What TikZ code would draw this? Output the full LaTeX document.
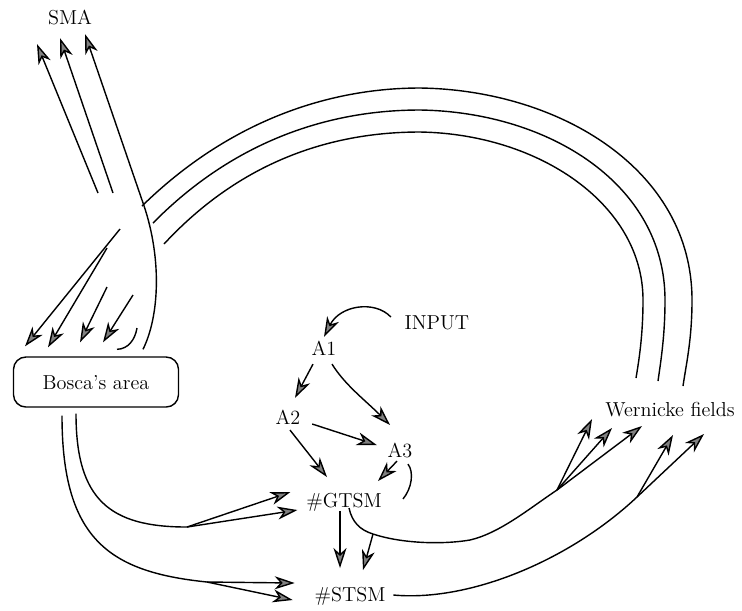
\documentclass[tikz,border=0pt]{standalone}
\usepackage{tikz}
\usetikzlibrary{arrows.meta}

\begin{document}
\begin{tikzpicture}[
  x=0.02cm, y=-0.02cm,
  lbl/.style={font=\fontsize{11.5}{14}\selectfont,inner sep=2pt,text depth=0pt},
  area/.style={lbl,draw,thick,rounded corners=7pt,minimum width=3.3cm,minimum height=1cm},
  fibre/.style={thick},
  arr/.style={thick,-{Stealth[length=4mm,width=2.6mm,inset=1.2mm,fill=gray]}}
]

  \useasboundingbox (0,0) rectangle (742,610);

  %% ===== AREAS =====
  \node[lbl] (sma) at (70,17) {SMA};
  \node[area] (broca) at (96,382) {Bosca's area};
  \node[lbl] (wern) at (670,409) {Wernicke fields};

  %% ===== CENTRAL CHAIN =====
  \node[lbl] (input) at (437,323) {INPUT};
  \node[lbl] (a1) at (324,348) {A1};
  \node[lbl] (a2) at (288,417) {A2};
  \node[lbl] (a3) at (400,450) {A3};
  \node[lbl] (gtsm) at (344,500) {\#GTSM};
  \node[lbl] (stsm) at (350,594) {\#STSM};

  % INPUT feeding A1
  \draw[arr] ([shift={(-10,-6)}]input.west) .. controls (375,300) and (340,305) .. (a1.north);

  % A1 to A2 and A3
  \draw[arr] ([shift={(-11,5)}]a1.south) -- ([shift={(7,-8)}]a2.north);
  \draw[arr] ([shift={(8,5)}]a1.south) .. controls (345,385) and (365,400) .. ([shift={(-10,-14)}]a3.north);

  % A2 to A3 and GTSM
  \draw[arr] ([shift={(8,7)}]a2.east) -- ([shift={(-7,-5)}]a3.west);
  \draw[arr] ([shift={(2,2)}]a2.south) -- ([shift={(-17,-12)}]gtsm.north);

  % A3 to GTSM, with the loop beside it
  \draw[arr] ([shift={(-3,0)}]a3.south) -- ([shift={(34,-8)}]gtsm.north);
  \draw[fibre] ([shift={(8,3)}]a3.south) .. controls (414,472) and (412,488) .. ([shift={(59,-12)}]gtsm.south);

  % GTSM to STSM
  \draw[arr] ([shift={(-4,0)}]gtsm.south) -- ([shift={(-10,-15)}]stsm.north);

  %% ===== OUTPUT TO WERNICKE =====
  \coordinate (gfork) at (373,534);
  \coordinate (wfork) at (557,490);
  \coordinate (sfork) at (637,497);

  % GTSM curve
  \draw[fibre] ([shift={(5,-3)}]gtsm.south) .. controls (352,522) and (360,530) .. (gfork)
    .. controls (400,543) and (440,545) .. (470,540) .. controls (500,533) and (530,508) .. (wfork);
  \draw[arr] (gfork) -- ([shift={(13,-13)}]stsm.north);
  \foreach \dx/\dy in {-78/-1, -58/8, -28/6}
    \draw[arr] (wfork) -- ([shift={(\dx,\dy)}]wern.south);

  % STSM curve
  \draw[fibre] ([shift={(4,1)}]stsm.east) .. controls (470,602) and (570,560) .. (sfork);
  \foreach \dx/\dy in {3/15, 34/14}
    \draw[arr] (sfork) -- ([shift={(\dx,\dy)}]wern.south);

  %% ===== BOSCA OUTPUTS =====
  \coordinate (bgfork) at (187,527);
  \coordinate (bsfork) at (207,582);

  \draw[fibre] ([shift={(-20,6)}]broca.south) .. controls (76,500) and (110,527) .. (bgfork);
  \draw[fibre] ([shift={(-34,8)}]broca.south) .. controls (62,540) and (110,572) .. (bsfork);
  \draw[arr] (bgfork) -- ([shift={(-12,-8)}]gtsm.west);
  \draw[arr] (bgfork) -- ([shift={(-5,10)}]gtsm.west);
  \draw[arr] (bsfork) -- ([shift={(-16,-11)}]stsm.west);
  \draw[arr] (bsfork) -- ([shift={(-18,6)}]stsm.west);

  %% ===== SMA / BOSCA FORK =====
  \coordinate (s1) at (98,193);
  \coordinate (s2) at (113,193);
  \coordinate (stub) at (137,328);
  \coordinate (f1) at (120,229);
  \coordinate (f2) at (107,248);
  \coordinate (f3) at (107,287);
  \coordinate (f4) at (133,295);

  \draw[arr] (s1) -- ([shift={(-33,16)}]sma.south);
  \draw[arr] (s2) -- ([shift={(-10,10)}]sma.south);
  \draw[arr] ([shift={(47,-7)}]broca.north) .. controls (160,315) and (162,255) .. (142,200)
    -- ([shift={(15,6)}]sma.south);
  \draw[fibre] ([shift={(21,-7)}]broca.north) .. controls (128,349) and (135,340) .. (stub);

  \foreach \f/\dx/\dy in {f1/-71/-10, f2/-48/-9, f3/-16/-14, f4/7/-14}
    \draw[arr] (\f) -- ([shift={(\dx,\dy)}]broca.north);

  %% ===== ARCS TO WERNICKE =====
  \draw[fibre] (142,206) .. controls (230,120) and (330,88) .. (420,88)
    .. controls (560,90) and (692,170) .. (692,300) .. controls (692,340) and (686,365) .. (683,386);
  \draw[fibre] (153,223) .. controls (235,140) and (330,110) .. (420,110)
    .. controls (550,112) and (665,185) .. (665,300) .. controls (665,335) and (661,360) .. (658,381);
  \draw[fibre] (164,244) .. controls (240,162) and (330,132) .. (420,132)
    .. controls (540,134) and (643,205) .. (643,300) .. controls (643,335) and (639,360) .. (636,378);

\end{tikzpicture}
\end{document}
